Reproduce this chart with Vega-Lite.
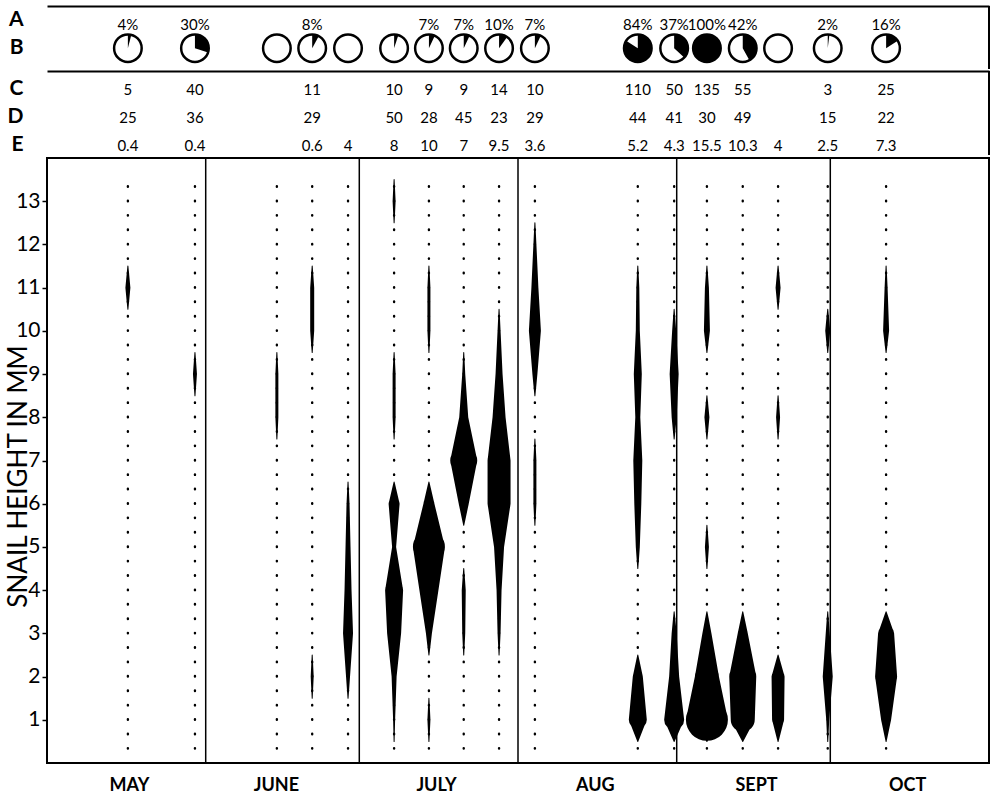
{
  "$schema": "https://vega.github.io/schema/vega-lite/v6.json",
  "padding": {"left": 4, "top": 5, "right": 0, "bottom": 0},
  "background": "white",
  "config": {"font": "Lato", "view": {"stroke": null}, "axis": {"grid": false, "labelColor": "black", "titleColor": "black"}},
  "spacing": 0,
  "datasets": {
    "cols": [
      {"c": 1, "day": 15.8, "A": "4%", "pct": 4, "C": "5", "D": "25", "E": "0.4"},
      {"c": 2, "day": 28.9, "A": "30%", "pct": 30, "C": "40", "D": "36", "E": "0.4"},
      {"c": 3, "day": 44.9, "A": "", "pct": 0, "C": "", "D": "", "E": ""},
      {"c": 4, "day": 51.8, "A": "8%", "pct": 8, "C": "11", "D": "29", "E": "0.6"},
      {"c": 5, "day": 58.8, "A": "", "pct": 0, "C": "", "D": "", "E": "4"},
      {"c": 6, "day": 67.8, "A": "", "pct": 5, "C": "10", "D": "50", "E": "8"},
      {"c": 7, "day": 74.6, "A": "7%", "pct": 7, "C": "9", "D": "28", "E": "10"},
      {"c": 8, "day": 81.4, "A": "7%", "pct": 7, "C": "9", "D": "45", "E": "7"},
      {"c": 9, "day": 88.3, "A": "10%", "pct": 10, "C": "14", "D": "23", "E": "9.5"},
      {"c": 10, "day": 95.3, "A": "7%", "pct": 7, "C": "10", "D": "29", "E": "3.6"},
      {"c": 11, "day": 115.4, "A": "84%", "pct": 84, "C": "110", "D": "44", "E": "5.2"},
      {"c": 12, "day": 122.5, "A": "37%", "pct": 37, "C": "50", "D": "41", "E": "4.3"},
      {"c": 13, "day": 128.9, "A": "100%", "pct": 100, "C": "135", "D": "30", "E": "15.5"},
      {"c": 14, "day": 135.9, "A": "42%", "pct": 42, "C": "55", "D": "49", "E": "10.3"},
      {"c": 15, "day": 142.8, "A": "", "pct": 0, "C": "", "D": "", "E": "4"},
      {"c": 16, "day": 152.5, "A": "2%", "pct": 2, "C": "3", "D": "15", "E": "2.5"},
      {"c": 17, "day": 163.9, "A": "16%", "pct": 16, "C": "25", "D": "22", "E": "7.3"}
    ],
    "months": [{"b": 31}, {"b": 61}, {"b": 92}, {"b": 123}, {"b": 153}],
    "kites": [
      {"day": 15.8, "k": "1a", "h": 10.5, "f": 0}, {"day": 15.8, "k": "1a", "h": 11, "f": 5}, {"day": 15.8, "k": "1a", "h": 11.5, "f": 0},
      {"day": 28.9, "k": "2a", "h": 8.5, "f": 0}, {"day": 28.9, "k": "2a", "h": 9, "f": 4}, {"day": 28.9, "k": "2a", "h": 9.5, "f": 0},
      {"day": 44.9, "k": "3a", "h": 7.5, "f": 0}, {"day": 44.9, "k": "3a", "h": 8, "f": 3}, {"day": 44.9, "k": "3a", "h": 9, "f": 3}, {"day": 44.9, "k": "3a", "h": 9.5, "f": 0},
      {"day": 51.8, "k": "4a", "h": 1.5, "f": 0}, {"day": 51.8, "k": "4a", "h": 2, "f": 3}, {"day": 51.8, "k": "4a", "h": 2.5, "f": 0},
      {"day": 51.8, "k": "4b", "h": 9.5, "f": 0}, {"day": 51.8, "k": "4b", "h": 10, "f": 4}, {"day": 51.8, "k": "4b", "h": 11, "f": 4}, {"day": 51.8, "k": "4b", "h": 11.5, "f": 0},
      {"day": 58.8, "k": "5a", "h": 1.5, "f": 0}, {"day": 58.8, "k": "5a", "h": 2, "f": 4}, {"day": 58.8, "k": "5a", "h": 3, "f": 10}, {"day": 58.8, "k": "5a", "h": 4, "f": 7}, {"day": 58.8, "k": "5a", "h": 5, "f": 5}, {"day": 58.8, "k": "5a", "h": 6, "f": 3}, {"day": 58.8, "k": "5a", "h": 6.5, "f": 0},
      {"day": 67.8, "k": "6a", "h": 0.5, "f": 0}, {"day": 67.8, "k": "6a", "h": 1, "f": 2}, {"day": 67.8, "k": "6a", "h": 2, "f": 5}, {"day": 67.8, "k": "6a", "h": 3, "f": 14}, {"day": 67.8, "k": "6a", "h": 4, "f": 18}, {"day": 67.8, "k": "6a", "h": 5, "f": 4}, {"day": 67.8, "k": "6a", "h": 6, "f": 11}, {"day": 67.8, "k": "6a", "h": 6.5, "f": 0},
      {"day": 67.8, "k": "6b", "h": 7.5, "f": 0}, {"day": 67.8, "k": "6b", "h": 8, "f": 3}, {"day": 67.8, "k": "6b", "h": 9, "f": 3}, {"day": 67.8, "k": "6b", "h": 9.5, "f": 0},
      {"day": 67.8, "k": "6c", "h": 12.5, "f": 0}, {"day": 67.8, "k": "6c", "h": 13, "f": 3}, {"day": 67.8, "k": "6c", "h": 13.5, "f": 0},
      {"day": 74.6, "k": "7a", "h": 0.5, "f": 0}, {"day": 74.6, "k": "7a", "h": 1, "f": 3}, {"day": 74.6, "k": "7a", "h": 1.5, "f": 0},
      {"day": 74.6, "k": "7b", "h": 2.5, "f": 0}, {"day": 74.6, "k": "7b", "h": 3, "f": 6}, {"day": 74.6, "k": "7b", "h": 4, "f": 19}, {"day": 74.6, "k": "7b", "h": 5, "f": 32}, {"day": 74.6, "k": "7b", "h": 6, "f": 11}, {"day": 74.6, "k": "7b", "h": 6.5, "f": 0},
      {"day": 74.6, "k": "7c", "h": 9.5, "f": 0}, {"day": 74.6, "k": "7c", "h": 10, "f": 3}, {"day": 74.6, "k": "7c", "h": 11, "f": 3}, {"day": 74.6, "k": "7c", "h": 11.5, "f": 0},
      {"day": 81.4, "k": "8a", "h": 2.5, "f": 0}, {"day": 81.4, "k": "8a", "h": 3, "f": 3}, {"day": 81.4, "k": "8a", "h": 4, "f": 4}, {"day": 81.4, "k": "8a", "h": 4.5, "f": 0},
      {"day": 81.4, "k": "8b", "h": 5.5, "f": 0}, {"day": 81.4, "k": "8b", "h": 6, "f": 10}, {"day": 81.4, "k": "8b", "h": 7, "f": 27}, {"day": 81.4, "k": "8b", "h": 8, "f": 9}, {"day": 81.4, "k": "8b", "h": 9, "f": 3}, {"day": 81.4, "k": "8b", "h": 9.5, "f": 0},
      {"day": 88.3, "k": "9a", "h": 2.5, "f": 0}, {"day": 88.3, "k": "9a", "h": 3, "f": 3}, {"day": 88.3, "k": "9a", "h": 4, "f": 5}, {"day": 88.3, "k": "9a", "h": 5, "f": 10}, {"day": 88.3, "k": "9a", "h": 6, "f": 23}, {"day": 88.3, "k": "9a", "h": 7, "f": 23}, {"day": 88.3, "k": "9a", "h": 8, "f": 13}, {"day": 88.3, "k": "9a", "h": 9, "f": 7}, {"day": 88.3, "k": "9a", "h": 10, "f": 3}, {"day": 88.3, "k": "9a", "h": 10.5, "f": 0},
      {"day": 95.3, "k": "10a", "h": 5.5, "f": 0}, {"day": 95.3, "k": "10a", "h": 6, "f": 3}, {"day": 95.3, "k": "10a", "h": 7, "f": 3}, {"day": 95.3, "k": "10a", "h": 7.5, "f": 0},
      {"day": 95.3, "k": "10b", "h": 8.5, "f": 0}, {"day": 95.3, "k": "10b", "h": 9, "f": 5}, {"day": 95.3, "k": "10b", "h": 10, "f": 12}, {"day": 95.3, "k": "10b", "h": 11, "f": 7}, {"day": 95.3, "k": "10b", "h": 12, "f": 3}, {"day": 95.3, "k": "10b", "h": 12.5, "f": 0},
      {"day": 115.4, "k": "11a", "h": 0.5, "f": 0}, {"day": 115.4, "k": "11a", "h": 1, "f": 18}, {"day": 115.4, "k": "11a", "h": 2, "f": 10}, {"day": 115.4, "k": "11a", "h": 2.5, "f": 0},
      {"day": 115.4, "k": "11b", "h": 4.5, "f": 0}, {"day": 115.4, "k": "11b", "h": 5, "f": 4}, {"day": 115.4, "k": "11b", "h": 6, "f": 7}, {"day": 115.4, "k": "11b", "h": 7, "f": 9}, {"day": 115.4, "k": "11b", "h": 8, "f": 5}, {"day": 115.4, "k": "11b", "h": 9, "f": 8}, {"day": 115.4, "k": "11b", "h": 10, "f": 4}, {"day": 115.4, "k": "11b", "h": 11, "f": 3}, {"day": 115.4, "k": "11b", "h": 11.5, "f": 0},
      {"day": 122.5, "k": "12a", "h": 0.5, "f": 0}, {"day": 122.5, "k": "12a", "h": 1, "f": 20}, {"day": 122.5, "k": "12a", "h": 2, "f": 10}, {"day": 122.5, "k": "12a", "h": 3, "f": 5}, {"day": 122.5, "k": "12a", "h": 3.5, "f": 0},
      {"day": 122.5, "k": "12b", "h": 7.5, "f": 0}, {"day": 122.5, "k": "12b", "h": 8, "f": 5}, {"day": 122.5, "k": "12b", "h": 9, "f": 9}, {"day": 122.5, "k": "12b", "h": 10, "f": 4}, {"day": 122.5, "k": "12b", "h": 10.5, "f": 0},
      {"day": 128.9, "k": "13a", "h": 0.5, "f": 0}, {"day": 128.9, "k": "13a", "h": 1, "f": 42}, {"day": 128.9, "k": "13a", "h": 2, "f": 24}, {"day": 128.9, "k": "13a", "h": 3, "f": 9}, {"day": 128.9, "k": "13a", "h": 3.5, "f": 0},
      {"day": 128.9, "k": "13b", "h": 4.5, "f": 0}, {"day": 128.9, "k": "13b", "h": 5, "f": 4}, {"day": 128.9, "k": "13b", "h": 5.5, "f": 0},
      {"day": 128.9, "k": "13c", "h": 7.5, "f": 0}, {"day": 128.9, "k": "13c", "h": 8, "f": 5}, {"day": 128.9, "k": "13c", "h": 8.5, "f": 0},
      {"day": 128.9, "k": "13d", "h": 9.5, "f": 0}, {"day": 128.9, "k": "13d", "h": 10, "f": 6}, {"day": 128.9, "k": "13d", "h": 11, "f": 4}, {"day": 128.9, "k": "13d", "h": 11.5, "f": 0},
      {"day": 135.9, "k": "14a", "h": 0.5, "f": 0}, {"day": 135.9, "k": "14a", "h": 1, "f": 24}, {"day": 135.9, "k": "14a", "h": 2, "f": 27}, {"day": 135.9, "k": "14a", "h": 3, "f": 10}, {"day": 135.9, "k": "14a", "h": 3.5, "f": 0},
      {"day": 142.8, "k": "15a", "h": 0.5, "f": 0}, {"day": 142.8, "k": "15a", "h": 1, "f": 12}, {"day": 142.8, "k": "15a", "h": 2, "f": 13}, {"day": 142.8, "k": "15a", "h": 2.5, "f": 0},
      {"day": 142.8, "k": "15b", "h": 7.5, "f": 0}, {"day": 142.8, "k": "15b", "h": 8, "f": 4}, {"day": 142.8, "k": "15b", "h": 8.5, "f": 0},
      {"day": 142.8, "k": "15c", "h": 10.5, "f": 0}, {"day": 142.8, "k": "15c", "h": 11, "f": 5}, {"day": 142.8, "k": "15c", "h": 11.5, "f": 0},
      {"day": 152.5, "k": "16a", "h": 0.5, "f": 0}, {"day": 152.5, "k": "16a", "h": 1, "f": 3}, {"day": 152.5, "k": "16a", "h": 2, "f": 10}, {"day": 152.5, "k": "16a", "h": 3, "f": 4}, {"day": 152.5, "k": "16a", "h": 3.5, "f": 0},
      {"day": 152.5, "k": "16b", "h": 9.5, "f": 0}, {"day": 152.5, "k": "16b", "h": 10, "f": 5}, {"day": 152.5, "k": "16b", "h": 10.5, "f": 0},
      {"day": 163.9, "k": "17a", "h": 0.5, "f": 0}, {"day": 163.9, "k": "17a", "h": 1, "f": 10}, {"day": 163.9, "k": "17a", "h": 2, "f": 22}, {"day": 163.9, "k": "17a", "h": 3, "f": 16}, {"day": 163.9, "k": "17a", "h": 3.5, "f": 0},
      {"day": 163.9, "k": "17b", "h": 9.5, "f": 0}, {"day": 163.9, "k": "17b", "h": 10, "f": 6}, {"day": 163.9, "k": "17b", "h": 11, "f": 3}, {"day": 163.9, "k": "17b", "h": 11.5, "f": 0}
    ]
  },
  "vconcat": [
    {
      "width": 942,
      "height": 63,
      "data": {"name": "cols"},
      "layer": [
        {
          "mark": {"type": "text", "fontSize": 15, "dy": 5, "color": "black"},
          "encoding": {
            "x": {"field": "day", "type": "quantitative", "title": null, "scale": {"domain": [0, 184], "nice": false, "zero": false},
                  "axis": {"orient": "top", "labels": false, "ticks": false, "domain": true, "domainColor": "black", "domainWidth": 2, "title": null}},
            "y": {"datum": "A", "type": "nominal", "title": null,
                  "scale": {"type": "band", "domain": ["A", "B"], "paddingInner": 0, "paddingOuter": 0.12, "align": 0},
                  "axis": {"title": null, "domain": false, "ticks": false, "labelFontSize": 21, "labelFontWeight": "bold", "labelPadding": 24}},
            "text": {"field": "A"}
          }
        },
        {
          "transform": [{"filter": "datum.pct > 0"}],
          "mark": {"type": "point", "filled": true, "fill": "black", "size": 760, "opacity": 1, "strokeWidth": 0},
          "encoding": {
            "x": {"field": "day", "type": "quantitative", "title": null},
            "y": {"datum": "B", "type": "nominal", "title": null},
            "shape": {"field": "pct", "type": "nominal", "legend": null,
                      "scale": {"domain": [2, 4, 5, 7, 8, 10, 16, 30, 37, 42, 84, 100],
                                "range": [
                                  "M0,0L0,-1A1,1 0 0,1 0.1253,-0.9921Z",
                                  "M0,0L0,-1A1,1 0 0,1 0.2487,-0.9686Z",
                                  "M0,0L0,-1A1,1 0 0,1 0.3090,-0.9511Z",
                                  "M0,0L0,-1A1,1 0 0,1 0.4258,-0.9048Z",
                                  "M0,0L0,-1A1,1 0 0,1 0.4818,-0.8763Z",
                                  "M0,0L0,-1A1,1 0 0,1 0.5878,-0.8090Z",
                                  "M0,0L0,-1A1,1 0 0,1 0.8443,-0.5358Z",
                                  "M0,0L0,-1A1,1 0 0,1 0.9511,0.3090Z",
                                  "M0,0L0,-1A1,1 0 0,1 0.7290,0.6845Z",
                                  "M0,0L0,-1A1,1 0 0,1 0.4818,0.8763Z",
                                  "M0,0L0,-1A1,1 0 1,1 -0.8443,-0.5358Z",
                                  "M0,-1A1,1 0 1,1 0,1A1,1 0 1,1 0,-1Z"
                                ]}}
          }
        },
        {
          "mark": {"type": "point", "shape": "circle", "size": 760, "filled": false, "stroke": "black", "strokeWidth": 2.5, "opacity": 1},
          "encoding": {
            "x": {"field": "day", "type": "quantitative", "title": null},
            "y": {"datum": "B", "type": "nominal", "title": null}
          }
        },
        {
          "mark": {"type": "rule", "stroke": "black", "strokeWidth": 2},
          "encoding": {"x": {"datum": 184, "type": "quantitative", "title": null}}
        }
      ]
    },
    {
      "width": 942,
      "height": 84,
      "data": {"name": "cols"},
      "layer": [
        {
          "mark": {"type": "text", "fontSize": 15, "dy": 5, "color": "black"},
          "encoding": {
            "x": {"field": "day", "type": "quantitative", "title": null, "scale": {"domain": [0, 184], "nice": false, "zero": false},
                  "axis": {"orient": "top", "labels": false, "ticks": false, "domain": true, "domainColor": "black", "domainWidth": 2, "title": null}},
            "y": {"datum": "C", "type": "nominal", "title": null,
                  "scale": {"type": "band", "domain": ["C", "D", "E"], "paddingInner": 0, "paddingOuter": 0},
                  "axis": {"title": null, "domain": false, "ticks": false, "labelFontSize": 21, "labelFontWeight": "bold", "labelPadding": 24, "labelOffset": 4}},
            "text": {"field": "C"}
          }
        },
        {
          "mark": {"type": "text", "fontSize": 15, "dy": 5, "color": "black"},
          "encoding": {
            "x": {"field": "day", "type": "quantitative", "title": null},
            "y": {"datum": "D", "type": "nominal", "title": null},
            "text": {"field": "D"}
          }
        },
        {
          "mark": {"type": "text", "fontSize": 15, "dy": 5, "color": "black"},
          "encoding": {
            "x": {"field": "day", "type": "quantitative", "title": null},
            "y": {"datum": "E", "type": "nominal", "title": null},
            "text": {"field": "E"}
          }
        },
        {
          "mark": {"type": "rule", "stroke": "black", "strokeWidth": 2},
          "encoding": {"x": {"datum": 184, "type": "quantitative", "title": null}}
        }
      ]
    },
    {
      "width": 942,
      "height": 605,
      "view": {"stroke": "black", "strokeWidth": 2},
      "layer": [
        {
          "data": {"name": "cols"},
          "mark": {"type": "rule", "strokeDash": [0.5, 13.905], "strokeCap": "round", "strokeWidth": 2.4, "color": "black"},
          "encoding": {
            "x": {"field": "day", "type": "quantitative", "title": null,
                  "scale": {"domain": [0, 184], "nice": false, "zero": false},
                  "axis": {"orient": "bottom", "title": null, "domain": false, "ticks": false, "values": [16, 44.7, 76, 107, 138.5, 168],
                           "labelExpr": "datum.value < 30 ? 'MAY' : datum.value < 60 ? 'JUNE' : datum.value < 90 ? 'JULY' : datum.value < 120 ? 'AUG' : datum.value < 150 ? 'SEPT' : 'OCT'",
                           "labelFontSize": 18, "labelFontWeight": "bold", "labelPadding": 13}},
            "y": {"datum": 0.3333, "type": "quantitative", "title": "SNAIL HEIGHT IN MM",
                  "scale": {"domain": [0, 14], "nice": false, "zero": true},
                  "axis": {"title": "SNAIL HEIGHT IN MM", "titleFontSize": 26, "titleFontWeight": "normal", "titleX": -16, "titleY": 318,
                           "values": [1, 2, 3, 4, 5, 6, 7, 8, 9, 10, 11, 12, 13], "domain": false, "tickSize": 5, "tickWidth": 1.5, "tickColor": "black",
                           "labelFontSize": 21, "labelPadding": 2}},
            "y2": {"datum": 13.6667}
          }
        },
        {
          "data": {"name": "months"},
          "mark": {"type": "rule", "strokeWidth": 1.5, "color": "black"},
          "encoding": {"x": {"field": "b", "type": "quantitative", "title": null}}
        },
        {
          "data": {"name": "kites"},
          "mark": {"type": "trail", "color": "black", "opacity": 1},
          "encoding": {
            "x": {"field": "day", "type": "quantitative", "title": null},
            "y": {"field": "h", "type": "quantitative", "title": "SNAIL HEIGHT IN MM"},
            "size": {"field": "f", "type": "quantitative", "legend": null, "scale": {"domain": [0, 100], "range": [0, 100], "zero": true}},
            "detail": {"field": "k"},
            "order": {"field": "h"}
          }
        }
      ]
    }
  ]
}
